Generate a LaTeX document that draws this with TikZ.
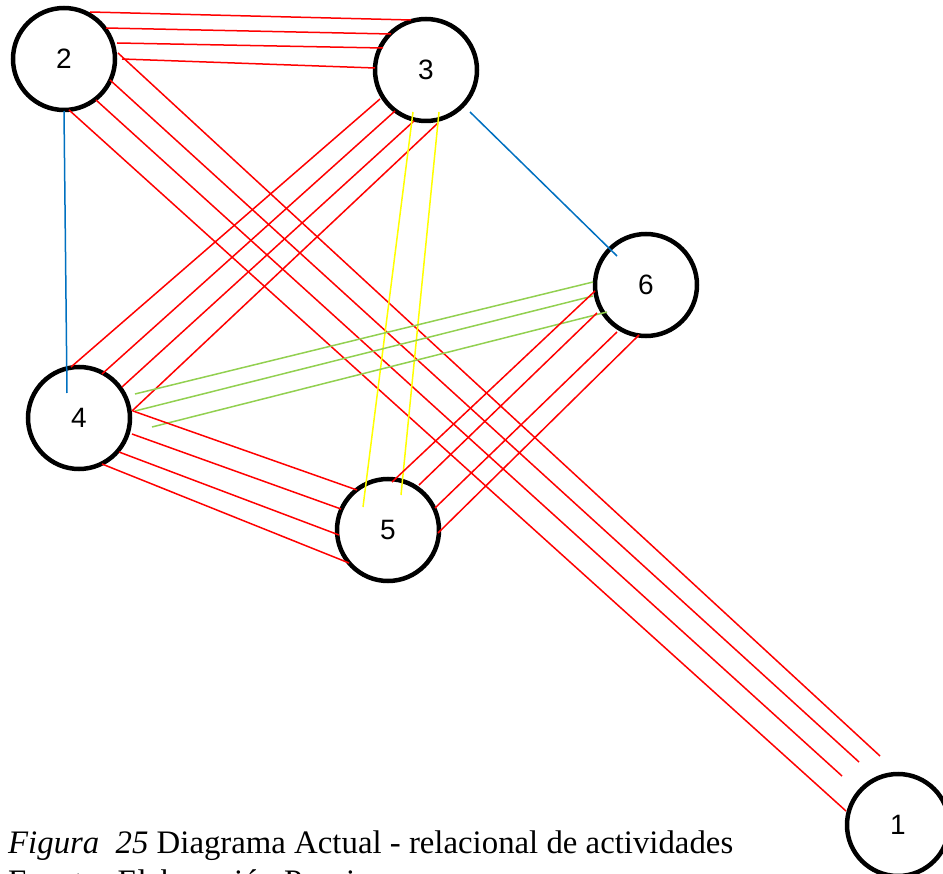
\documentclass[tikz,border=0pt]{standalone}
\usepackage{fontspec}
\setmainfont{Liberation Serif}
\newfontfamily\numfont{Liberation Sans}
\usetikzlibrary{calc}

\definecolor{relred}{RGB}{255,0,0}
\definecolor{relblue}{RGB}{0,112,192}
\definecolor{relgreen}{RGB}{146,208,80}
\definecolor{relyellow}{RGB}{255,255,0}

\tikzset{
  activity/.style={circle, draw=black, line width=4.5pt, minimum size=102pt,
    inner sep=0pt, font=\numfont\fontsize{28}{32}\selectfont},
  rel/.style={line width=1.5pt},
  absolute/.style={rel, relred},
  important/.style={rel, relblue},
  ordinary/.style={rel, relyellow},
  especial/.style={rel, relgreen},
  caption/.style={anchor=base west, inner sep=0pt, font=\fontsize{32.8}{38}\selectfont}
}

\begin{document}
\begin{tikzpicture}[x=1pt, y=-1pt]
\useasboundingbox (0,0) rectangle (943,874);

% activities
\node[activity] (n2) at (64,59) {2};
\node[activity] (n3) at (426,70) {3};
\node[activity] (n4) at (79,418) {4};
\node[activity] (n5) at (388,530) {5};
\node[activity] (n6) at (646,285) {6};
\node[activity] (n1) at (898,825) {1};

% 2 -- 3 (A)
\draw[absolute] ($(n2)+(26,-47)$) -- ($(n3)+(-15,-50)$);
\draw[absolute] ($(n2)+(42,-31)$) -- ($(n3)+(-35,-36)$);
\draw[absolute] ($(n2)+(53,-16)$) -- ($(n3)+(-43,-22)$);
\draw[absolute] ($(n2)+(58,0)$) -- ($(n3)+(-51,-2)$);

% 2 -- 1 (A)
\draw[absolute] ($(n2)+(54,-6)$) -- ($(n1)+(-18,-69)$);
\draw[absolute] ($(n2)+(46,21)$) -- ($(n1)+(-39,-63)$);
\draw[absolute] ($(n2)+(32,41)$) -- ($(n1)+(-56,-49)$);
\draw[absolute] ($(n2)+(5,51)$) -- ($(n1)+(-52,-14)$);

% 2 -- 4 (E)
\draw[important] ($(n2)+(0,52)$) -- ($(n4)+(-12,-25)$);

% 3 -- 4 (A)
\draw[absolute] ($(n3)+(-46,29)$) -- ($(n4)+(-8,-51)$);
\draw[absolute] ($(n3)+(-31,41)$) -- ($(n4)+(23,-44)$);
\draw[absolute] ($(n3)+(-12,51)$) -- ($(n4)+(43,-31)$);
\draw[absolute] ($(n3)+(12,53)$) -- ($(n4)+(53,-7)$);

% 3 -- 6 (E)
\draw[important] ($(n3)+(44,42)$) -- ($(n6)+(-29,-29)$);

% 3 -- 5 (O)
\draw[ordinary] ($(n3)+(-13,42)$) -- ($(n5)+(-25,-23)$);
\draw[ordinary] ($(n3)+(13,42)$) -- ($(n5)+(13,-35)$);

% 4 -- 6 (I)
\draw[especial] ($(n4)+(56,-24)$) -- ($(n6)+(-53,-3)$);
\draw[especial] ($(n4)+(56,-7)$) -- ($(n6)+(-53,11)$);
\draw[especial] ($(n4)+(73,9)$) -- ($(n6)+(-39,27)$);

% 4 -- 5 (A)
\draw[absolute] ($(n4)+(54,-7)$) -- ($(n5)+(-31,-40)$);
\draw[absolute] ($(n4)+(53,16)$) -- ($(n5)+(-47,-21)$);
\draw[absolute] ($(n4)+(40,34)$) -- ($(n5)+(-49,5)$);
\draw[absolute] ($(n4)+(23,46)$) -- ($(n5)+(-39,33)$);

% 5 -- 6 (A)
\draw[absolute] ($(n5)+(4,-48)$) -- ($(n6)+(-51,6)$);
\draw[absolute] ($(n5)+(31,-45)$) -- ($(n6)+(-49,28)$);
\draw[absolute] ($(n5)+(47,-22)$) -- ($(n6)+(-29,47)$);
\draw[absolute] ($(n5)+(50,3)$) -- ($(n6)+(-7,50)$);

% caption
\node[caption] (cap) at (8,853) {\textit{Figura\ \ 25} Diagrama Actual - relacional de actividades};
\node[caption] (src) at (8,892) {Fuente: Elaboración Propia};
\end{tikzpicture}
\end{document}
